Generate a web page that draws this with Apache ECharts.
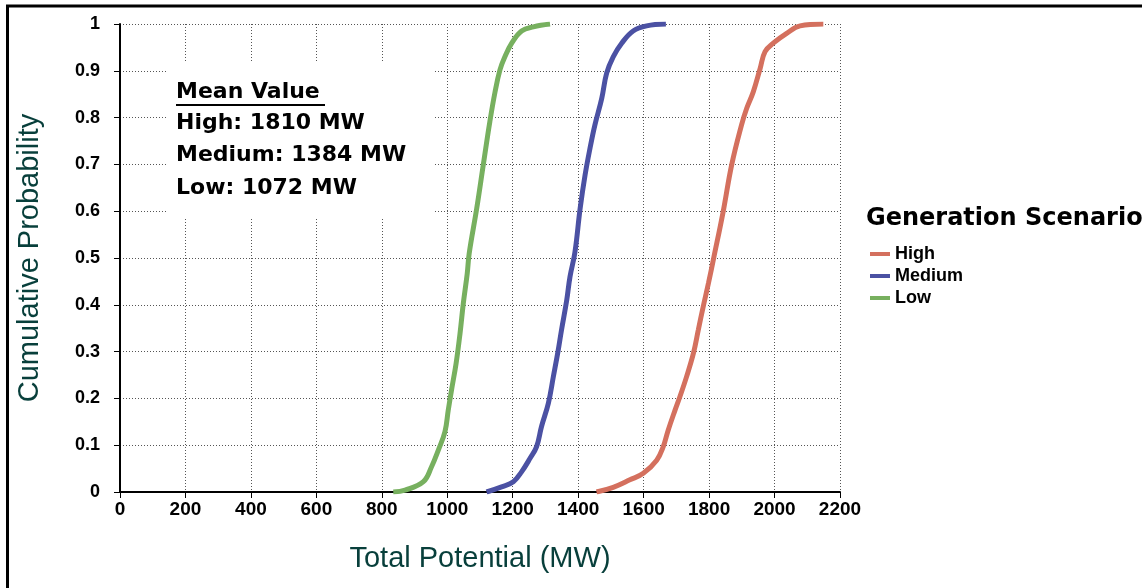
<!DOCTYPE html>
<html>
<head>
<meta charset="utf-8">
<script src="https://cdn.jsdelivr.net/npm/echarts@6/dist/echarts.min.js"></script>
<style>
  html, body { margin: 0; padding: 0; background: #fff; }
  #cdf { width: 1142px; height: 588px; }
</style>
</head>
<body>
<div id="cdf"></div>
<script>
// cumulative curves: MW value and probability
const lowMW = [835, 871, 927, 952, 973, 993, 1003, 1013, 1027, 1039, 1049, 1061, 1067, 1090, 1110, 1130, 1146, 1161, 1176, 1197, 1227, 1263, 1314]
const lowP = [0, 0.004, 0.022, 0.054, 0.09, 0.129, 0.175, 0.218, 0.275, 0.339, 0.403, 0.467, 0.51, 0.606, 0.699, 0.791, 0.855, 0.902, 0.93, 0.959, 0.985, 0.994, 1]

const medMW = [1120, 1166, 1202, 1227, 1253, 1273, 1288, 1309, 1324, 1339, 1349, 1365, 1375, 1390, 1406, 1421, 1436, 1451, 1472, 1487, 1507, 1533, 1568, 1609, 1668]
const medP = [0, 0.011, 0.022, 0.043, 0.072, 0.097, 0.14, 0.19, 0.246, 0.303, 0.346, 0.41, 0.46, 0.512, 0.606, 0.677, 0.734, 0.784, 0.841, 0.895, 0.93, 0.959, 0.985, 0.996, 1]

const highMW = [1456, 1507, 1558, 1599, 1640, 1660, 1675, 1696, 1711, 1731, 1752, 1767, 1782, 1798, 1815, 1843, 1869, 1899, 1915, 1935, 1956, 1971, 1996, 2037, 2078, 2149]
const highP = [0, 0.01, 0.026, 0.04, 0.068, 0.097, 0.132, 0.175, 0.204, 0.246, 0.296, 0.346, 0.396, 0.446, 0.503, 0.599, 0.699, 0.784, 0.82, 0.855, 0.905, 0.941, 0.959, 0.98, 0.996, 1]

const scenarios = ['High', 'Medium', 'Low']
const meanLines = ['High: 1810 MW', 'Medium: 1384 MW', 'Low: 1072 MW']

function pairs(xs, ps) {
  return xs.map((x, i) => [x, ps[i]])
}

const chart = echarts.init(document.getElementById('cdf'))

const tickFont = {
  color: '#000',
  fontFamily: 'Liberation Sans, Arial, sans-serif',
  fontWeight: 'bold',
  fontSize: 19,
}
const nameFont = {
  color: '#083f3b',
  fontFamily: 'Liberation Sans, Arial, sans-serif',
  fontSize: 29,
}
const boxFont = 'bold 22px "DejaVu Sans", sans-serif'
const gridLine = { color: '#555', type: [1, 2], width: 1 }

const option = {
  animation: false,
  color: ['#d4705e', '#4b51a3', '#77b05f'],
  grid: {
    left: 120,
    right: 302,
    top: 24,
    bottom: 96,
    containLabel: false,
    outerBoundsMode: 'none',
  },
  xAxis: {
    type: 'value',
    min: 0,
    max: 2200,
    interval: 200,
    name: 'Total Potential (MW)',
    nameLocation: 'middle',
    nameGap: 52,
    nameTextStyle: nameFont,
    axisLine: { onZero: false, lineStyle: { color: '#000', width: 2 } },
    axisTick: { show: true, length: 6, lineStyle: { color: '#000', width: 1 } },
    axisLabel: Object.assign({ margin: 8, formatter: (v) => String(v) }, tickFont),
    splitLine: { show: true, lineStyle: gridLine },
  },
  yAxis: {
    type: 'value',
    min: 0,
    max: 1,
    interval: 0.1,
    name: 'Cumulative Probability',
    nameLocation: 'middle',
    nameGap: 76,
    nameTextStyle: nameFont,
    axisLine: { show: true, lineStyle: { color: '#000', width: 2 } },
    axisTick: { show: true, length: 6, lineStyle: { color: '#000', width: 1 } },
    axisLabel: Object.assign({
      margin: 20,
      formatter: (v) => String(+v.toFixed(1)),
    }, tickFont, { fontSize: 18 }),
    splitLine: { show: true, lineStyle: gridLine },
  },
  legend: {
    data: scenarios,
    orient: 'vertical',
    left: 865,
    top: 240,
    icon: 'rect',
    itemWidth: 20,
    itemHeight: 4,
    itemGap: 4,
    textStyle: {
      color: '#000',
      fontFamily: 'Liberation Sans, Arial, sans-serif',
      fontWeight: 'bold',
      fontSize: 18,
    },
  },
  series: [
    { name: 'High', type: 'line', data: pairs(highMW, highP) },
    { name: 'Medium', type: 'line', data: pairs(medMW, medP) },
    { name: 'Low', type: 'line', data: pairs(lowMW, lowP) },
  ].map((s) => Object.assign(s, {
    showSymbol: false,
    smooth: 0.4,
    lineStyle: { width: 5 },
  })),
  graphic: [
    // frame round the whole picture
    {
      type: 'rect',
      z: 100,
      shape: { x: 7.5, y: 6, width: 1300, height: 800 },
      style: { fill: 'none', stroke: '#000', lineWidth: 3 },
    },
    // mean value box, hides the grid behind it
    {
      type: 'rect',
      z: 100,
      shape: { x: 168, y: 62, width: 265, height: 155 },
      style: { fill: '#fff' },
    },
    {
      type: 'text',
      z: 101,
      x: 176,
      y: 92,
      style: { text: 'Mean Value', font: boxFont, fill: '#000', verticalAlign: 'middle' },
    },
    {
      type: 'line',
      z: 101,
      shape: { x1: 176, y1: 105, x2: 325, y2: 105 },
      style: { stroke: '#000', lineWidth: 2 },
    },
    ...meanLines.map((t, i) => ({
      type: 'text',
      z: 101,
      x: 176,
      y: 123 + i * 32.5,
      style: { text: t, font: boxFont, fill: '#000', verticalAlign: 'middle' },
    })),
    // legend title
    {
      type: 'text',
      z: 101,
      x: 866,
      y: 219,
      style: {
        text: 'Generation Scenario',
        font: 'bold 24px "DejaVu Sans", sans-serif',
        fill: '#000',
        verticalAlign: 'middle',
      },
    },
  ],
}

chart.setOption(option)
</script>
</body>
</html>
